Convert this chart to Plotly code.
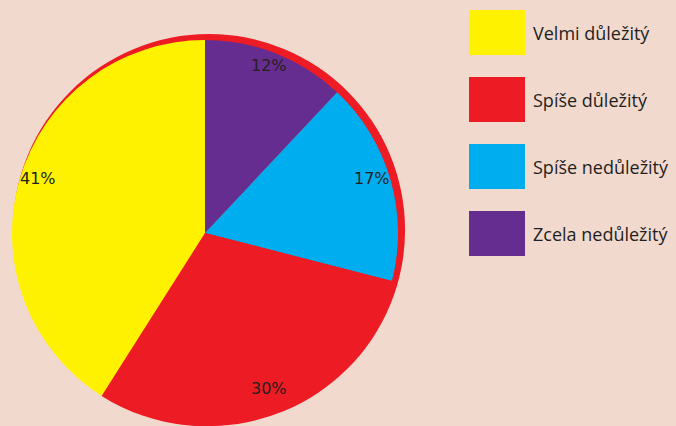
import math
import plotly.graph_objects as go

# ---- data ----
categories = ["Zcela nedůležitý", "Spíše nedůležitý", "Spíše důležitý", "Velmi důležitý"]
values = [12, 17, 30, 41]
colors = ["#662d91", "#00aeef", "#ed1c24", "#fff200"]
legend_order = ["Velmi důležitý", "Spíše důležitý", "Spíše nedůležitý", "Zcela nedůležitý"]

W, H = 676, 426
BG = "#f2d9ce"
TXT = "#231f20"

# pie geometry (pixels from top-left)
cx, cy, r = 205, 233, 193
# rim disk slightly offset up/right
rcx, rcy, rr = 209, 230, 196


def dom(cx_, cy_, r_):
    return dict(x=[(cx_ - r_) / W, (cx_ + r_) / W],
                y=[(H - cy_ - r_) / H, (H - cy_ + r_) / H])


fig = go.Figure()
fig.add_trace(go.Pie(values=[1], labels=["rim"], marker=dict(colors=["#ed1c24"], line=dict(width=0)),
                     textinfo="none", hoverinfo="skip", showlegend=False, sort=False,
                     domain=dom(rcx, rcy, rr)))
fig.add_trace(go.Pie(values=values, labels=categories,
                     marker=dict(colors=colors, line=dict(width=0)),
                     direction="clockwise", rotation=0, sort=False,
                     textinfo="none", showlegend=False,
                     domain=dom(cx, cy, r)))

annotations = []
total = sum(values)
cum = 0
for v in values:
    mid = (cum + v / 2) / total * 2 * math.pi
    cum += v
    R = 0.9 * r
    px = cx + R * math.sin(mid)
    py = cy - 6 - R * math.cos(mid)
    annotations.append(dict(x=px / W, y=1 - py / H, xref="paper", yref="paper",
                            xanchor="center", yanchor="middle",
                            text=f"{v}%", showarrow=False,
                            font=dict(family="DejaVu Sans", size=16, color=TXT)))

# legend built manually (large swatches)
shapes = []
for i, name in enumerate(legend_order):
    col = colors[categories.index(name)]
    top = 10 + i * 67
    shapes.append(dict(type="rect", xref="paper", yref="paper",
                       x0=469 / W, x1=525 / W, y0=1 - (top + 45) / H, y1=1 - top / H,
                       fillcolor=col, line=dict(width=0)))
    annotations.append(dict(x=531 / W, y=1 - (top + 23) / H, xref="paper", yref="paper",
                            xanchor="left", yanchor="middle", text=name, showarrow=False,
                            font=dict(family="Open Sans", size=18, color=TXT)))

fig.update_layout(width=W, height=H, margin=dict(l=0, r=0, t=0, b=0),
                  paper_bgcolor=BG, plot_bgcolor=BG,
                  shapes=shapes, annotations=annotations, showlegend=False)
fig.write_html("out.html", config={"displayModeBar": False},
               post_script="document.body.style.margin='0px';document.body.style.overflow='hidden';")
